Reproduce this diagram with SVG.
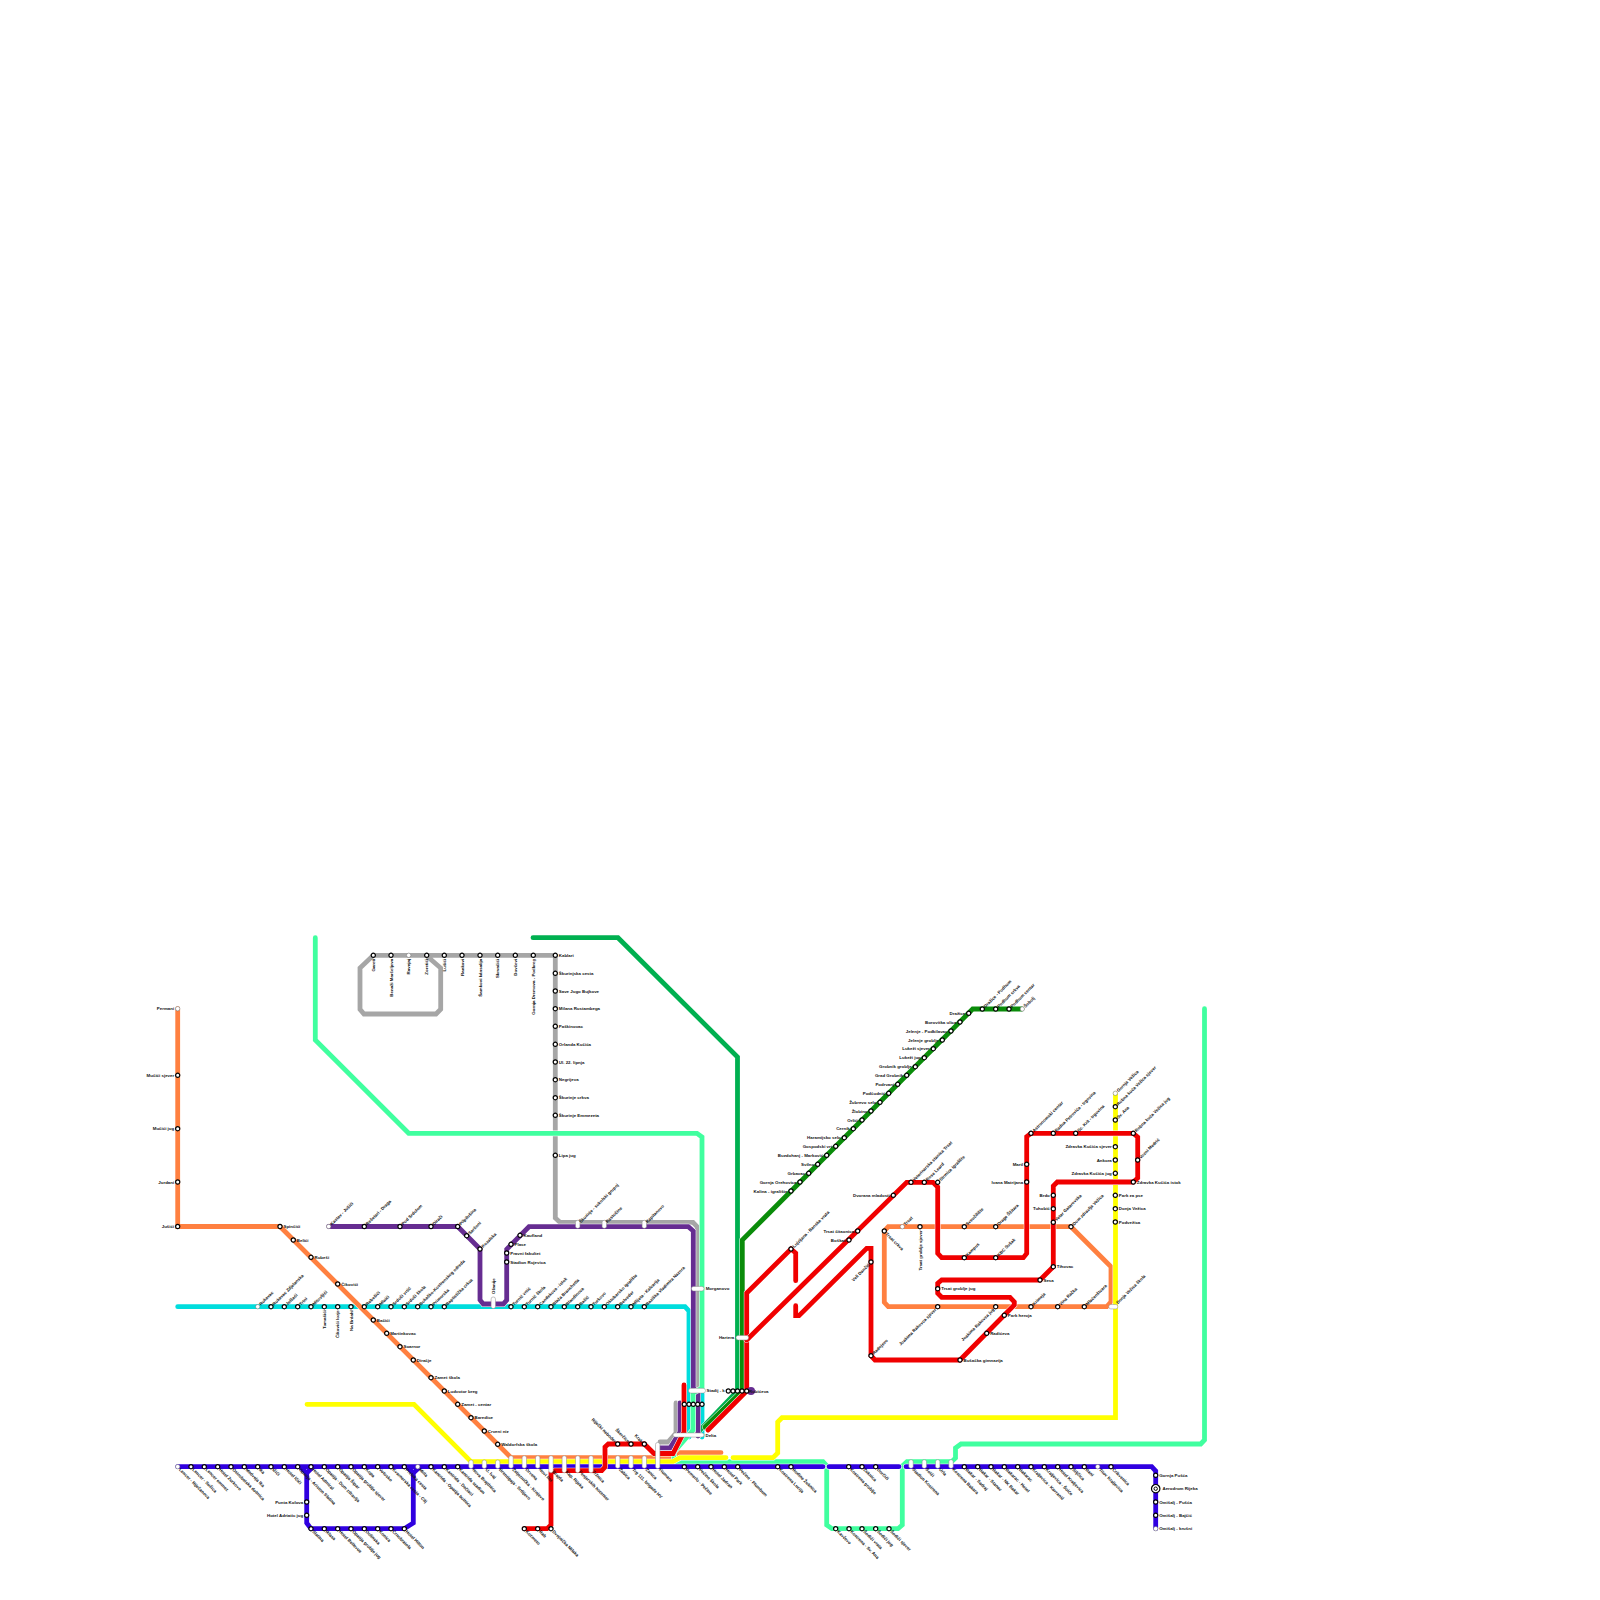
<svg xmlns="http://www.w3.org/2000/svg" width="1600" height="1600" viewBox="0 0 1600 1600">
<style>
text{font:bold 4.4px "Liberation Sans",Arial,sans-serif;fill:#111}
.st{fill:#fff;stroke:#000;stroke-width:1.2}
.tm{fill:#fff;stroke:#666;stroke-width:.5}
.pill{fill:#fff;stroke:#888;stroke-width:.5}
.u{transform:rotate(-45deg) translate(3px,1.6px)}
.d{transform:rotate(45deg) translate(3px,1.6px)}
.r{transform:translate(3.5px,1.6px)}
.l{transform:translate(-3.5px,1.6px);text-anchor:end}
.v{transform:rotate(-90deg) translate(-3.5px,1.6px);text-anchor:end}
.e{transform:rotate(45deg) translate(-3px,1.6px);text-anchor:end}
.s{transform:rotate(-45deg) translate(-3px,1.6px);text-anchor:end}
.k{transform:translate(0,4.7px) rotate(45deg) translate(3px,1.6px)}
.k2{transform:translate(0,2.6px) rotate(45deg) translate(3px,1.6px)}
#lines use{fill:none;stroke-linecap:round;stroke-linejoin:miter}
.h{stroke:#fff;stroke-width:5.8}
.c{stroke-width:4.8}
</style>
<defs>
<path id="pCy" d="M177.7 1306.7H685L689 1311V1437"/>
<path id="pCy2" d="M702 1394V1437"/>
<path id="pOr" d="M177.7 1008.7V1226.5H280L511 1457.7H675L680 1452.7H721"/>
<path id="pOr2" d="M1071 1226.7L1111 1266.7V1301.7L1106.7 1306.7H888.3L884.3 1302.3V1231L888.3 1226.7H1071"/>
<path id="pTe" d="M533 937.7H618L737.5 1057V1391L705 1425L698 1432V1436"/>
<path id="pGr" d="M555.3 955.3H373.3L360 968V1009.3L364 1014H436L440.7 1009.3V968L428 957M555.3 955.3V1218L560 1222.3H693L697.3 1227V1390M676 1403V1433L668 1442H660"/>
<path id="pPu" d="M328.7 1226.5H457.7L480 1249V1300L483.3 1304H503.3L506.7 1300V1249.3L529 1226.7H688.3L693.3 1231V1388L698 1393V1436M680 1403V1432L670 1448H660"/>
<path id="pMi" d="M315.3 937.7V1040L408.7 1133.3H697L702 1137V1388L693 1393V1430L674 1452V1461.7H823L826.7 1465.7V1525L832 1528.7H898L902.3 1525V1466L907 1461.7H951.7L955.5 1458V1448L961 1444H1200.7L1204.5 1440V1008.7"/>
<path id="pYe" d="M307 1404.3H414L471 1461.7H673L680 1457.7H726"/>
<path id="pYe2" d="M733 1457.7H773L777.7 1453V1422L782 1417.7H1115.5V1094"/>
<path id="pDg" d="M1022 1009H972.7L742.3 1240V1391L705 1427"/>
<path id="pBl" d="M177.7 1466.7H823M829 1466.7H899M906 1466.7H1151.7L1155.7 1471V1528.7M300 1466.7L306.7 1473V1523L311 1528.7H404.3L413.3 1523V1473L420 1466.7M313 1466.7L306.7 1473M407 1466.7L413.3 1473"/>
<path id="pRe1" d="M795.7 1280.7V1253L791 1249L746.7 1293V1391L708 1430"/>
<path id="pRe2" d="M746.7 1340L906.7 1182.3H933L937.7 1187V1253.3L941.7 1257.7H1023.3L1026.7 1253.5V1136.7L1031 1133.3H1133.3L1137.7 1137V1178L1133.3 1182H1057.3L1053.3 1186V1266.7L1040 1280H941.7L937.7 1283.3V1293.3L941.7 1297.3H1010L1014.3 1302V1305L960 1360H875L871 1355.7V1248.3H866.7L799 1315.7H795.7V1305.7"/>
<path id="pRe3" d="M524.3 1528.7H547L551 1525V1473L555 1470.7H601.7L605 1467V1447L608.3 1444H644.3L654 1453.5H673L684 1432V1385"/>
</defs>
<g id="lines">
<use href="#pCy" class="h"/><use href="#pCy" class="c" stroke="#00DDDD"/>
<use href="#pCy2" class="c" stroke="#00DDDD"/>
<use href="#pOr" class="h"/><use href="#pOr" class="c" stroke="#FF8040"/>
<use href="#pOr2" class="h"/><use href="#pOr2" class="c" stroke="#FF8040"/>
<use href="#pTe" class="h"/><use href="#pTe" class="c" stroke="#00B050"/>
<use href="#pGr" class="h"/><use href="#pGr" class="c" stroke="#A6A6A6"/>
<use href="#pPu" class="h"/><use href="#pPu" class="c" stroke="#662D91"/>
<use href="#pMi" class="h"/><use href="#pMi" class="c" stroke="#40FF9F"/>
<use href="#pYe" class="h"/><use href="#pYe" class="c" stroke="#FFFF00"/>
<use href="#pYe2" class="h"/><use href="#pYe2" class="c" stroke="#FFFF00"/>
<use href="#pDg" class="h"/><use href="#pDg" class="c" stroke="#0A8C0A"/>
<use href="#pBl" class="h"/><use href="#pBl" class="c" stroke="#3000E0"/>
<use href="#pRe1" class="h"/><use href="#pRe1" class="c" stroke="#F00000"/>
<use href="#pRe2" class="h"/><use href="#pRe2" class="c" stroke="#F00000"/>
<use href="#pRe3" class="h"/><use href="#pRe3" class="c" stroke="#F00000"/>
</g>
<g id="nodes">
<g id="or1" transform="translate(177.7 1008.7)"><circle class="tm" r="2.2"/><text class="l">Permani</text></g>
<g id="or2" transform="translate(177.7 1075.3)"><circle class="st" r="2.1"/><text class="l">Mučići sjever</text></g>
<g id="or3" transform="translate(177.7 1128.7)"><circle class="st" r="2.1"/><text class="l">Mučići jug</text></g>
<g id="or4" transform="translate(177.7 1182)"><circle class="st" r="2.1"/><text class="l">Jurdani</text></g>
<g id="or5" transform="translate(177.7 1226.5)"><circle class="st" r="2.1"/><text class="l">Jušići</text></g>
<g id="or6" transform="translate(280 1226.5)"><circle class="st" r="2.1"/><text class="r">Spinčići</text></g>
<g id="or7" transform="translate(293.3 1240)"><circle class="st" r="2.1"/><text class="r">Belići</text></g>
<g id="or8" transform="translate(311 1257.3)"><circle class="st" r="2.1"/><text class="r">Rubeši</text></g>
<g id="or9" transform="translate(337.7 1284)"><circle class="st" r="2.1"/><text class="r">Čikovići</text></g>
<g id="or10" transform="translate(373.3 1320)"><circle class="st" r="2.1"/><text class="r">Bačići</text></g>
<g id="or11" transform="translate(386.7 1333.3)"><circle class="st" r="2.1"/><text class="r">Martinkovac</text></g>
<g id="or12" transform="translate(400 1346.7)"><circle class="st" r="2.1"/><text class="r">Soarnor</text></g>
<g id="or13" transform="translate(413.3 1360)"><circle class="st" r="2.1"/><text class="r">Diračje</text></g>
<g id="or14" transform="translate(431 1377.7)"><circle class="st" r="2.1"/><text class="r">Zamet škola</text></g>
<g id="or15" transform="translate(444.3 1391)"><circle class="st" r="2.1"/><text class="r">Ludvotor breg</text></g>
<g id="or16" transform="translate(457.7 1404.3)"><circle class="st" r="2.1"/><text class="r">Zamet - centar</text></g>
<g id="or17" transform="translate(471 1417.7)"><circle class="st" r="2.1"/><text class="r">Baredice</text></g>
<g id="or18" transform="translate(484.3 1431)"><circle class="st" r="2.1"/><text class="r">Crveni niz</text></g>
<g id="or19" transform="translate(497.7 1444.3)"><circle class="st" r="2.1"/><text class="r">Waldorfska škola</text></g>

<g id="gr1" transform="translate(373.3 955.3)"><circle class="st" r="2.1"/><text class="v">Gareti</text></g>
<g id="gr2" transform="translate(391 955.3)"><circle class="st" r="2.1"/><text class="v">Benaži Marčeljeva</text></g>
<g id="gr3" transform="translate(408.7 955.3)"><circle class="tm" r="2.2"/><text class="v">Ravnjaj</text></g>
<g id="gr4" transform="translate(426.7 955.3)"><circle class="st" r="2.1"/><text class="v">Zoretići</text></g>
<g id="gr5" transform="translate(444.3 955.3)"><circle class="st" r="2.1"/><text class="v">Lušići</text></g>
<g id="gr6" transform="translate(462 955.3)"><circle class="st" r="2.1"/><text class="v">Rankovi</text></g>
<g id="gr7" transform="translate(480 955.3)"><circle class="st" r="2.1"/><text class="v">Šamkovi kánsalija</text></g>
<g id="gr8" transform="translate(497.7 955.3)"><circle class="st" r="2.1"/><text class="v">Skrvačići</text></g>
<g id="gr9" transform="translate(515.3 955.3)"><circle class="st" r="2.1"/><text class="v">Dovčevi</text></g>
<g id="gr10" transform="translate(533.3 955.3)"><circle class="st" r="2.1"/><text class="v">Gornja Dremova - Podbreg</text></g>
<g id="gr11" transform="translate(555.3 955.3)"><circle class="st" r="2.1"/><text class="r">Kablari</text></g>
<g id="gr12" transform="translate(555.3 973.3)"><circle class="st" r="2.1"/><text class="r">Škurinjska cesta</text></g>
<g id="gr13" transform="translate(555.3 991)"><circle class="st" r="2.1"/><text class="r">Save Jugo Bujkove</text></g>
<g id="gr14" transform="translate(555.3 1008.7)"><circle class="st" r="2.1"/><text class="r">Milana Rustambega</text></g>
<g id="gr15" transform="translate(555.3 1026.3)"><circle class="st" r="2.1"/><text class="r">Paškinovac</text></g>
<g id="gr16" transform="translate(555.3 1044.3)"><circle class="st" r="2.1"/><text class="r">Orlanda Kučića</text></g>
<g id="gr17" transform="translate(555.3 1062)"><circle class="st" r="2.1"/><text class="r">Ul. 22. lipnja</text></g>
<g id="gr18" transform="translate(555.3 1079.7)"><circle class="st" r="2.1"/><text class="r">Negrijeva</text></g>
<g id="gr19" transform="translate(555.3 1097.7)"><circle class="st" r="2.1"/><text class="r">Škurinje crkva</text></g>
<g id="gr20" transform="translate(555.3 1115.3)"><circle class="st" r="2.1"/><text class="r">Škurinje Emmezeta</text></g>
<g id="gr21" transform="translate(555.3 1155.3)"><circle class="st" r="2.1"/><text class="r">Lipa jug</text></g>

<g id="pu1" transform="translate(328.7 1226.5)"><circle class="tm" r="2.2"/><text class="u">Kastav - Jušići</text></g>
<g id="pu2" transform="translate(364.3 1226.5)"><circle class="st" r="2.1"/><text class="u">Rešetari - Draga</text></g>
<g id="pu3" transform="translate(400 1226.5)"><circle class="st" r="2.1"/><text class="u">Pod Srdolom</text></g>
<g id="pu4" transform="translate(431 1226.5)"><circle class="st" r="2.1"/><text class="u">Dirači</text></g>
<g id="pu5" transform="translate(457.7 1226.5)"><circle class="st" r="2.1"/><text class="u">Pilpilušina</text></g>
<g id="pu6" transform="translate(466.7 1235.7)"><circle class="st" r="2.1"/><text class="u">Saršoni</text></g>
<g id="pu7" transform="translate(480 1249)"><circle class="st" r="2.1"/><text class="u">Kozalska</text></g>
<g id="pu8" transform="translate(520 1235.3)"><circle class="st" r="2.1"/><text class="r">Kaufland</text></g>
<g id="pu9" transform="translate(511 1244.3)"><circle class="st" r="2.1"/><text class="r">Plase</text></g>
<g id="pu10" transform="translate(506.7 1253)"><circle class="st" r="2.1"/><text class="r">Pravni fakultet</text></g>
<g id="pu11" transform="translate(506.7 1262)"><circle class="st" r="2.1"/><text class="r">Stadion Rujevica</text></g>
<g id="pu12" transform="translate(493.3 1303)"><rect class="pill" x="-2.2" y="-6" width="4.4" height="11.5" rx="2"/><text style="transform:rotate(-90deg) translate(9px,1.6px)">Ožanije</text></g>
<g id="pu13" transform="translate(577.7 1224.3)"><rect class="pill" x="-2.2" y="-4" width="4.4" height="8" rx="2"/><text class="u">Škurinje - sokolski grupoj</text></g>
<g id="pu14" transform="translate(604.3 1224.3)"><rect class="pill" x="-2.2" y="-4" width="4.4" height="8" rx="2"/><text class="u">Rastočine</text></g>
<g id="pu15" transform="translate(644.3 1224.3)"><rect class="pill" x="-2.2" y="-4" width="4.4" height="8" rx="2"/><text class="u">Kapitanovo</text></g>
<g id="pu16" transform="translate(697.7 1288.7)"><rect class="pill" x="-6.3" y="-2.3" width="12.6" height="4.6" rx="2.2"/><text style="transform:translate(8px,1.6px)">Morganovo</text></g>
<g id="re0" transform="translate(742.3 1337.7)"><rect class="pill" x="-6.3" y="-2.3" width="12.6" height="4.6" rx="2.2"/><text style="transform:translate(-8px,1.6px);text-anchor:end">Hartera</text></g>

<g id="cy1" transform="translate(257.7 1306.7)"><circle class="tm" r="2.2"/><text class="u">Rukavac</text></g>
<g id="cy2" transform="translate(271 1306.7)"><circle class="st" r="2.1"/><text class="u">Rukavac Zdjelanska</text></g>
<g id="cy3" transform="translate(284.3 1306.7)"><circle class="st" r="2.1"/><text class="u">Jelšaći</text></g>
<g id="cy4" transform="translate(297.7 1306.7)"><circle class="st" r="2.1"/><text class="u">Trtni</text></g>
<g id="cy5" transform="translate(311 1306.7)"><circle class="st" r="2.1"/><text class="u">Mitovljići</text></g>
<g id="cy6" transform="translate(324.3 1306.7)"><circle class="st" r="2.1"/><text class="v">Tomašići</text></g>
<g id="cy7" transform="translate(337.7 1306.7)"><circle class="st" r="2.1"/><text class="v">Čikovići lozje</text></g>
<g id="cy8" transform="translate(351 1306.7)"><circle class="st" r="2.1"/><text class="v">Na Brdahl</text></g>
<g id="cy9" transform="translate(364.3 1306.7)"><circle class="st" r="2.1"/><text class="u">Rebešići</text></g>
<g id="cy10" transform="translate(377.7 1306.7)"><circle class="st" r="2.1"/><text class="u">Mlaići</text></g>
<g id="cy11" transform="translate(391 1306.7)"><circle class="st" r="2.1"/><text class="u">Srdoči vrtić</text></g>
<g id="cy12" transform="translate(404.3 1306.7)"><circle class="st" r="2.1"/><text class="u">Srdoči škola</text></g>
<g id="cy13" transform="translate(417.7 1306.7)"><circle class="st" r="2.1"/><text class="u">Bokačko-Kostrenskog odreda</text></g>
<g id="cy14" transform="translate(431 1306.7)"><circle class="st" r="2.1"/><text class="u">Primorska</text></g>
<g id="cy15" transform="translate(444.3 1306.7)"><circle class="st" r="2.1"/><text class="u">Baptistička crkva</text></g>
<g id="cy16" transform="translate(511 1306.7)"><circle class="st" r="2.1"/><text class="u">Turnić vrtić</text></g>
<g id="cy17" transform="translate(524.3 1306.7)"><circle class="st" r="2.1"/><text class="u">Turnić škola</text></g>
<g id="cy18" transform="translate(537.7 1306.7)"><circle class="st" r="2.1"/><text class="u">Candekova - istok</text></g>
<g id="cy19" transform="translate(551 1306.7)"><circle class="st" r="2.1"/><text class="u">Blaža Branchetta</text></g>
<g id="cy20" transform="translate(564.3 1306.7)"><circle class="st" r="2.1"/><text class="u">Blandinova</text></g>
<g id="cy21" transform="translate(577.7 1306.7)"><circle class="st" r="2.1"/><text class="u">Bašić</text></g>
<g id="cy22" transform="translate(591 1306.7)"><circle class="st" r="2.1"/><text class="u">Turkovo</text></g>
<g id="cy23" transform="translate(604.3 1306.7)"><circle class="st" r="2.1"/><text class="u">Oktobarsko igralište</text></g>
<g id="cy24" transform="translate(617.7 1306.7)"><circle class="st" r="2.1"/><text class="u">Belveder</text></g>
<g id="cy25" transform="translate(631 1306.7)"><circle class="st" r="2.1"/><text class="u">Mlijeta - Kalvarija</text></g>
<g id="cy26" transform="translate(644.3 1306.7)"><circle class="st" r="2.1"/><text class="u">Bazilika Vladimira Nazora</text></g>

<g id="bl1" transform="translate(177.7 1466.7)"><circle class="tm" r="2.2"/><text class="d">Lencer - Riječanova</text></g>
<g id="bl2" transform="translate(191 1466.7)"><circle class="st" r="2.1"/><text class="d">Lencer - Sučica</text></g>
<g id="bl3" transform="translate(204.3 1466.7)"><circle class="st" r="2.1"/><text class="d">Lencer emmez</text></g>
<g id="bl4" transform="translate(217.7 1466.7)"><circle class="st" r="2.1"/><text class="d">Hotel Zurkovo</text></g>
<g id="bl5" transform="translate(231 1466.7)"><circle class="st" r="2.1"/><text class="d">Ostrobetska dolmica</text></g>
<g id="bl6" transform="translate(244.3 1466.7)"><circle class="st" r="2.1"/><text class="d">Medveja Ika</text></g>
<g id="bl7" transform="translate(257.7 1466.7)"><circle class="st" r="2.1"/><text class="d">Ika</text></g>
<g id="bl8" transform="translate(271 1466.7)"><circle class="st" r="2.1"/><text class="d">Ičići</text></g>
<g id="bl9" transform="translate(284.3 1466.7)"><circle class="st" r="2.1"/><text class="d">Hotel Ičići</text></g>
<g id="bl10" transform="translate(297.7 1466.7)"><circle class="st" r="2.1"/><text class="d">Opatija - Ariston Slatina</text></g>
<g id="bl11" transform="translate(311 1466.7)"><circle class="st" r="2.1"/><text class="d">Hotel Admiral</text></g>
<g id="bl12" transform="translate(324.3 1466.7)"><circle class="st" r="2.1"/><text class="d">Opatija - Dom zdravlja</text></g>
<g id="bl13" transform="translate(337.7 1466.7)"><circle class="st" r="2.1"/><text class="d">Opatija Šipar</text></g>
<g id="bl14" transform="translate(351 1466.7)"><circle class="st" r="2.1"/><text class="d">Opatija groblje sjever</text></g>
<g id="bl15" transform="translate(364.3 1466.7)"><circle class="st" r="2.1"/><text class="d">Kopa</text></g>
<g id="bl16" transform="translate(377.7 1466.7)"><circle class="st" r="2.1"/><text class="d">Volosko</text></g>
<g id="bl17" transform="translate(391 1466.7)"><circle class="st" r="2.1"/><text class="d">Kvarnerska cesta - Cilj</text></g>
<g id="bl18" transform="translate(404.3 1466.7)"><circle class="st" r="2.1"/><text class="d">Preluka cesta</text></g>
<g id="bl19" transform="translate(417.7 1466.7)"><circle class="tm" r="2.2"/><text class="d">Mirla</text></g>
<g id="bl20" transform="translate(431 1466.7)"><circle class="st" r="2.1"/><text class="d">Kantrida - Opatija bolnica</text></g>
<g id="bl21" transform="translate(444.3 1466.7)"><circle class="st" r="2.1"/><text class="d">Kantrida - Dečiaci</text></g>
<g id="bl22" transform="translate(457.7 1466.7)"><circle class="st" r="2.1"/><text class="d">Kantrida stadion</text></g>
<g id="bl23" transform="translate(311 1528.7)"><circle class="st" r="2.1"/><text class="d">Slatina</text></g>
<g id="bl24" transform="translate(324.3 1528.7)"><circle class="st" r="2.1"/><text class="d">Iklasa</text></g>
<g id="bl25" transform="translate(337.7 1528.7)"><circle class="st" r="2.1"/><text class="d">Hotel Bellevue</text></g>
<g id="bl26" transform="translate(351 1528.7)"><circle class="st" r="2.1"/><text class="d">Opatija groblje jug</text></g>
<g id="bl27" transform="translate(364.3 1528.7)"><circle class="st" r="2.1"/><text class="d">Dolinska</text></g>
<g id="bl28" transform="translate(377.7 1528.7)"><circle class="st" r="2.1"/><text class="d">Konica</text></g>
<g id="bl29" transform="translate(391 1528.7)"><circle class="st" r="2.1"/><text class="d">Črnobratola</text></g>
<g id="bl30" transform="translate(404.3 1528.7)"><circle class="st" r="2.1"/><text class="d">Hotel Hilton</text></g>
<g id="bl31" transform="translate(306.7 1502)"><circle class="st" r="2.1"/><text class="l">Punta Kolova</text></g>
<g id="bl32" transform="translate(306.7 1515.3)"><circle class="st" r="2.1"/><text class="l">Hotel Adriatic jug</text></g>

<g id="ic1" transform="translate(471 1464.2)"><rect class="pill" x="-2.2" y="-4.2" width="4.4" height="8.4" rx="2"/><text class="k2">Nova Brajdnica</text></g>
<g id="ic2" transform="translate(484.3 1464.2)"><rect class="pill" x="-2.2" y="-4.2" width="4.4" height="8.4" rx="2"/><text class="k2">U. Ivaj</text></g>
<g id="ic3" transform="translate(497.7 1464.2)"><rect class="pill" x="-2.2" y="-4.2" width="4.4" height="8.4" rx="2"/><text class="k2">Brentigaja - Srdijevo</text></g>
<g id="ic4" transform="translate(511 1462)"><rect class="pill" x="-2.2" y="-6.2" width="4.4" height="12.4" rx="2"/><text class="k">Željeznička - Krnjevo</text></g>
<g id="ic5" transform="translate(524.3 1462)"><rect class="pill" x="-2.2" y="-6.2" width="4.4" height="12.4" rx="2"/><text class="k">Drvena</text></g>
<g id="ic6" transform="translate(537.7 1462)"><rect class="pill" x="-2.2" y="-6.2" width="4.4" height="12.4" rx="2"/><text class="k">Novi list</text></g>
<g id="ic7" transform="translate(551 1464.3)"><rect class="pill" x="-2.2" y="-8.5" width="4.4" height="17" rx="2"/><text class="k">Brajda</text></g>
<g id="ic8" transform="translate(564.3 1464.3)"><rect class="pill" x="-2.2" y="-8.5" width="4.4" height="17" rx="2"/><text class="k">Kap. Rijeka</text></g>
<g id="ic9" transform="translate(577.7 1464.3)"><rect class="pill" x="-2.2" y="-8.5" width="4.4" height="17" rx="2"/><text class="k">Fenjerskih hotenter</text></g>
<g id="ic10" transform="translate(591 1464.3)"><rect class="pill" x="-2.2" y="-8.5" width="4.4" height="17" rx="2"/><text class="k">Tržnica</text></g>
<g id="ic11" transform="translate(617.7 1462)"><rect class="pill" x="-2.2" y="-6.2" width="4.4" height="12.4" rx="2"/><text class="k">Žabica</text></g>
<g id="ic12" transform="translate(631 1462)"><rect class="pill" x="-2.2" y="-6.2" width="4.4" height="12.4" rx="2"/><text class="k">Trg 111. brigade HV</text></g>
<g id="ic13" transform="translate(644.3 1462)"><rect class="pill" x="-2.2" y="-6.2" width="4.4" height="12.4" rx="2"/><text class="k">Zanica</text></g>
<g id="ic14" transform="translate(657.7 1455.5)"><rect class="pill" x="-2.2" y="-13" width="4.4" height="26" rx="2"/><text style="transform:translate(0,11.2px) rotate(45deg) translate(3px,1.6px)">Fiumara</text></g>

<g id="re1" transform="translate(524.3 1528.7)"><circle class="st" r="2.1"/><text class="d">Kozmeto</text></g>
<g id="re2" transform="translate(537.7 1528.7)"><circle class="st" r="2.1"/><text class="d">Rab</text></g>
<g id="re3" transform="translate(551 1528.7)"><circle class="st" r="2.1"/><text class="d">Dvojnička Milaka</text></g>
<g id="re4" transform="translate(617.7 1444)"><circle class="st" r="2.1"/><text class="e">Riječki nebođer</text></g>
<g id="re5" transform="translate(631 1444)"><circle class="st" r="2.1"/><text class="e">Škerčice</text></g>
<g id="re6" transform="translate(644.3 1444)"><circle class="st" r="2.1"/><text class="e">Krak</text></g>

<g id="de1" transform="translate(697 1390.7)"><rect class="pill" x="-8.5" y="-2.4" width="17" height="4.8" rx="2.3"/><text style="transform:translate(9.5px,1.6px)">Stadij - k</text></g>
<g id="de2" transform="translate(688.5 1435)"><rect class="pill" x="-15.5" y="-2.1" width="31" height="4.2" rx="2"/><text style="transform:translate(17px,1.6px)">Delta</text></g>
<g id="de3" transform="translate(684.3 1404.3)"><circle class="st" r="2.1"/></g>
<g id="de4" transform="translate(689 1404.3)"><circle class="st" r="2.1"/></g>
<g id="de5" transform="translate(693.3 1404.3)"><circle class="st" r="2.1"/></g>
<g id="de6" transform="translate(697.7 1404.3)"><circle class="st" r="2.1"/></g>
<g id="de7" transform="translate(702 1404.3)"><circle class="st" r="2.1"/></g>
<g id="rb0" transform="translate(751 1391)"><circle r="4" fill="#662D91"/><text style="transform:translate(-2px,1.6px)">Rubićeva</text></g>
<g id="rb1" transform="translate(728.3 1391)"><circle class="st" r="2.1"/></g>
<g id="rb2" transform="translate(733 1391)"><circle class="st" r="2.1"/></g>
<g id="rb3" transform="translate(737.5 1391)"><circle class="st" r="2.1"/></g>
<g id="rb4" transform="translate(742 1391)"><circle class="st" r="2.1"/></g>
<g id="rb5" transform="translate(746.7 1391)"><circle class="st" r="2.1"/></g>

<g id="bc1" transform="translate(684.3 1466.7)"><circle class="st" r="2.1"/><text class="d">Pomerlo - Pečine</text></g>
<g id="bc2" transform="translate(697.7 1466.7)"><circle class="st" r="2.1"/><text class="d">Pećine škola</text></g>
<g id="bc3" transform="translate(711 1466.7)"><circle class="st" r="2.1"/><text class="d">Hotel Jadran</text></g>
<g id="bc4" transform="translate(724.3 1466.7)"><circle class="st" r="2.1"/><text class="d">Hotel Park</text></g>
<g id="bc5" transform="translate(737.7 1466.7)"><circle class="st" r="2.1"/><text class="d">Pećine - Plumbum</text></g>
<g id="bc6" transform="translate(777.7 1466.7)"><circle class="st" r="2.1"/><text class="d">Kostrena Lucija</text></g>
<g id="bc7" transform="translate(791 1466.7)"><circle class="st" r="2.1"/><text class="d">Rodine Žuknica</text></g>
<g id="bc8" transform="translate(848.7 1466.7)"><circle class="st" r="2.1"/><text class="d">Kostrena groblje</text></g>
<g id="bc9" transform="translate(862 1466.7)"><circle class="st" r="2.1"/><text class="d">Žuknica</text></g>
<g id="bc10" transform="translate(875.7 1466.7)"><circle class="st" r="2.1"/><text class="d">Dorčići</text></g>
<g id="mi1" transform="translate(835.7 1528.7)"><circle class="st" r="2.1"/><text class="d">Kavčevo</text></g>
<g id="mi2" transform="translate(849 1528.7)"><circle class="st" r="2.1"/><text class="d">Kostrena - Sv. Ana</text></g>
<g id="mi3" transform="translate(862 1528.7)"><circle class="st" r="2.1"/><text class="d">Šodići vrata</text></g>
<g id="mi4" transform="translate(875.7 1528.7)"><circle class="st" r="2.1"/><text class="d">Šodići jug</text></g>
<g id="mi5" transform="translate(889 1528.7)"><circle class="st" r="2.1"/><text class="d">Šodići sjever</text></g>
<g id="mi6" transform="translate(911 1464)"><rect class="pill" x="-2.2" y="-4.3" width="4.4" height="8.6" rx="2"/><text class="k2">Stadion Kostrena</text></g>
<g id="mi7" transform="translate(924.3 1464)"><rect class="pill" x="-2.2" y="-4.3" width="4.4" height="8.6" rx="2"/><text class="k2">Šoići</text></g>
<g id="mi8" transform="translate(937.7 1464)"><rect class="pill" x="-2.2" y="-4.3" width="4.4" height="8.6" rx="2"/><text class="k2">Urla</text></g>
<g id="mi9" transform="translate(951 1464)"><rect class="pill" x="-2.2" y="-4.3" width="4.4" height="8.6" rx="2"/><text class="k2">Kostrena Bakara</text></g>
<g id="be1" transform="translate(964.3 1466.7)"><circle class="st" r="2.1"/><text class="d">Bakar - Sadraj</text></g>
<g id="be2" transform="translate(977.7 1466.7)"><circle class="st" r="2.1"/><text class="d">Bakar - Stanac</text></g>
<g id="be3" transform="translate(991 1466.7)"><circle class="st" r="2.1"/><text class="d">Bakar - NK Bakar</text></g>
<g id="be4" transform="translate(1004.3 1466.7)"><circle class="st" r="2.1"/><text class="d">Bakarac - Hotel</text></g>
<g id="be5" transform="translate(1017.7 1466.7)"><circle class="st" r="2.1"/><text class="d">Bakarac</text></g>
<g id="be6" transform="translate(1031 1466.7)"><circle class="st" r="2.1"/><text class="d">Kraljevica - Kavranić</text></g>
<g id="be7" transform="translate(1044.3 1466.7)"><circle class="st" r="2.1"/><text class="d">Kraljevica - Šoiće</text></g>
<g id="be8" transform="translate(1057.7 1466.7)"><circle class="st" r="2.1"/><text class="d">Hotel Kraljevica</text></g>
<g id="be9" transform="translate(1071 1466.7)"><circle class="st" r="2.1"/><text class="d">Šiljčica</text></g>
<g id="be10" transform="translate(1084.3 1466.7)"><circle class="st" r="2.1"/><text class="d">Bani</text></g>
<g id="be11" transform="translate(1097.7 1466.7)"><circle class="tm" r="2.2"/><text class="d">Titov Kraljevica</text></g>
<g id="be13" transform="translate(1111 1466.7)"><circle class="st" r="2.1"/><text class="d">Crikvenica</text></g>
<g id="be14" transform="translate(1155.7 1475.3)"><circle class="st" r="2.1"/><text class="r">Gornja Pušća</text></g>
<g id="be15" transform="translate(1155.7 1488.7)"><circle class="st" r="4.2"/><circle r="1.7" fill="#fff" stroke="#000" stroke-width="1"/><text style="transform:translate(6.8px,1.6px)">Aerodrom Rijeka</text></g>
<g id="be16" transform="translate(1155.7 1502)"><circle class="st" r="2.1"/><text class="r">Omišalj - Pušća</text></g>
<g id="be17" transform="translate(1155.7 1515.3)"><circle class="st" r="2.1"/><text class="r">Omišalj - Bajčić</text></g>
<g id="be18" transform="translate(1155.7 1528.7)"><circle class="tm" r="2.2"/><text class="r">Omišalj - krušni</text></g>

<g id="dg1" transform="translate(968.7 1013.3)"><circle class="st" r="2.1"/><text class="l">Dražice</text></g>
<g id="dg2" transform="translate(982.3 1009)"><circle class="st" r="2.1"/><text class="u">Dražice - Podhum</text></g>
<g id="dg3" transform="translate(995.7 1009)"><circle class="st" r="2.1"/><text class="u">Podhum crkva</text></g>
<g id="dg4" transform="translate(1009 1009)"><circle class="st" r="2.1"/><text class="u">Podhum centar</text></g>
<g id="dg5" transform="translate(1022.3 1009)"><circle class="tm" r="2.2"/><text class="u">Šobolj</text></g>
<g id="dg6" transform="translate(960 1022)"><circle class="st" r="2.1"/><text class="l">Borovitka ulica</text></g>
<g id="dg7" transform="translate(951 1031)"><circle class="st" r="2.1"/><text class="l">Jelenje - Podkilavac</text></g>
<g id="dg8" transform="translate(942.3 1040)"><circle class="st" r="2.1"/><text class="l">Jelenje groblje</text></g>
<g id="dg9" transform="translate(933.3 1048.7)"><circle class="st" r="2.1"/><text class="l">Lukeži sjever</text></g>
<g id="dg10" transform="translate(924.3 1057.7)"><circle class="st" r="2.1"/><text class="l">Lukeži jug</text></g>
<g id="dg11" transform="translate(915.3 1066.7)"><circle class="st" r="2.1"/><text class="l">Grobnik groblje</text></g>
<g id="dg12" transform="translate(906.7 1075.3)"><circle class="st" r="2.1"/><text class="l">Grad Grobnik</text></g>
<g id="dg13" transform="translate(897.7 1084.3)"><circle class="st" r="2.1"/><text class="l">Podrvanj</text></g>
<g id="dg14" transform="translate(888.7 1093.3)"><circle class="st" r="2.1"/><text class="l">Podčudnić</text></g>
<g id="dg15" transform="translate(880 1102.3)"><circle class="st" r="2.1"/><text class="l">Žubrevo selo</text></g>
<g id="dg16" transform="translate(871 1111)"><circle class="st" r="2.1"/><text class="l">Žlobino</text></g>
<g id="dg17" transform="translate(862 1120)"><circle class="st" r="2.1"/><text class="l">Orlići</text></g>
<g id="dg18" transform="translate(853.3 1128.7)"><circle class="st" r="2.1"/><text class="l">Cernik</text></g>
<g id="dg19" transform="translate(844.3 1137.7)"><circle class="st" r="2.1"/><text class="l">Haramijsko selo</text></g>
<g id="dg20" transform="translate(835.7 1146.3)"><circle class="st" r="2.1"/><text class="l">Gospodski vrt</text></g>
<g id="dg21" transform="translate(826.7 1155.3)"><circle class="st" r="2.1"/><text class="l">Buzdohanj - Marković</text></g>
<g id="dg22" transform="translate(817.7 1164.3)"><circle class="st" r="2.1"/><text class="l">Svilno</text></g>
<g id="dg23" transform="translate(808.7 1173.3)"><circle class="st" r="2.1"/><text class="l">Grbavac</text></g>
<g id="dg24" transform="translate(800 1182)"><circle class="st" r="2.1"/><text class="l">Gornja Orehovica</text></g>
<g id="dg25" transform="translate(791 1191)"><circle class="st" r="2.1"/><text class="l">Kalina - igralište</text></g>

<g id="r1" transform="translate(791 1249)"><circle class="st" r="2.1"/><text class="u">Lujzijana - Banska vrata</text></g>
<g id="r2" transform="translate(857.7 1231)"><circle class="st" r="2.1"/><text class="l">Trsat čitaonica</text></g>
<g id="r3" transform="translate(849 1240)"><circle class="st" r="2.1"/><text class="l">Boškat</text></g>
<g id="r4" transform="translate(893.3 1195.3)"><circle class="st" r="2.1"/><text class="l">Dvorana mladosti</text></g>
<g id="r5" transform="translate(911 1182.3)"><circle class="st" r="2.1"/><text class="u">Veterinarska stanica Trsat</text></g>
<g id="r6" transform="translate(924.3 1182.3)"><circle class="st" r="2.1"/><text class="u">Rose Leard</text></g>
<g id="r7" transform="translate(937.7 1182.3)"><circle class="st" r="2.1"/><text class="u">Strmica igralište</text></g>
<g id="r8" transform="translate(964.3 1257.7)"><circle class="st" r="2.1"/><text class="u">Kampus</text></g>
<g id="r9" transform="translate(995.7 1257.7)"><circle class="st" r="2.1"/><text class="u">KBC Sušak</text></g>
<g id="r10" transform="translate(871 1262)"><circle class="st" r="2.1"/><text class="s">Veli Dančić</text></g>
<g id="r11" transform="translate(871 1355.7)"><circle class="st" r="2.1"/><text class="u">Radojevo</text></g>
<g id="r12" transform="translate(960 1360)"><circle class="st" r="2.1"/><text class="r">Bušačka gimnazija</text></g>
<g id="r13" transform="translate(986.7 1333.3)"><circle class="st" r="2.1"/><text class="r">Radićeva</text></g>
<g id="r14" transform="translate(1004.3 1315.3)"><circle class="st" r="2.1"/><text class="r">Park heroja</text></g>
<g id="r15" transform="translate(937.7 1288.7)"><circle class="st" r="2.1"/><text class="r">Trsat groblje jug</text></g>
<g id="r16" transform="translate(1031 1133.3)"><circle class="st" r="2.1"/><text class="u">Astronomski centar</text></g>
<g id="r17" transform="translate(1053.3 1133.3)"><circle class="st" r="2.1"/><text class="u">Radna Petrovića - trgovina</text></g>
<g id="r18" transform="translate(1075.7 1133.3)"><circle class="st" r="2.1"/><text class="u">Sc. Krit - trgovina</text></g>
<g id="r19" transform="translate(1133.3 1133.3)"><circle class="st" r="2.1"/><text class="u">Robna kuća Vežica jug</text></g>
<g id="r20" transform="translate(1137.7 1160)"><circle class="st" r="2.1"/><text class="u">Vozni Medrić</text></g>
<g id="r21" transform="translate(1133.3 1182)"><circle class="st" r="2.1"/><text class="r">Zdravka Kučića istok</text></g>
<g id="r22" transform="translate(1026.7 1164.3)"><circle class="st" r="2.1"/><text class="l">Martl</text></g>
<g id="r23" transform="translate(1026.7 1182)"><circle class="st" r="2.1"/><text class="l">Ivana Matrijana</text></g>
<g id="r24" transform="translate(1053.3 1195.3)"><circle class="st" r="2.1"/><text class="l">Brdo</text></g>
<g id="r25" transform="translate(1053.3 1208.7)"><circle class="st" r="2.1"/><text class="l">Tuhobić</text></g>
<g id="r26" transform="translate(1053.3 1222.3)"><circle class="st" r="2.1"/><text class="u">Vetar Gatarovska</text></g>
<g id="r27" transform="translate(1053.3 1266.7)"><circle class="st" r="2.1"/><text class="r">Tihovac</text></g>
<g id="r28" transform="translate(1040 1280)"><circle class="st" r="2.1"/><text class="r">Sesa</text></g>

<g id="o1" transform="translate(884.3 1231)"><circle class="st" r="2.1"/><text class="d">Trsat crkva</text></g>
<g id="o2" transform="translate(902.3 1226.7)"><circle class="tm" r="2.2"/><text class="u">Trsat</text></g>
<g id="o3" transform="translate(920 1226.7)"><circle class="st" r="2.1"/><text class="v">Trsat groblje sjever</text></g>
<g id="o4" transform="translate(964.3 1226.7)"><circle class="st" r="2.1"/><text class="u">Sveučilište</text></g>
<g id="o5" transform="translate(995.7 1226.7)"><circle class="st" r="2.1"/><text class="u">Drage Ščitara</text></g>
<g id="o6" transform="translate(1071 1226.7)"><circle class="st" r="2.1"/><text class="u">Dom zdravlja Vežica</text></g>
<g id="o7" transform="translate(937.7 1306.7)"><circle class="st" r="2.1"/><text class="s">Joakima Rakovca sjever</text></g>
<g id="o8" transform="translate(995.7 1306.7)"><circle class="st" r="2.1"/><text class="s">Joakima Rakovca jug</text></g>
<g id="o9" transform="translate(1031 1306.7)"><circle class="st" r="2.1"/><text class="u">Krimeja</text></g>
<g id="o10" transform="translate(1057.7 1306.7)"><circle class="st" r="2.1"/><text class="u">Vina Račka</text></g>
<g id="o11" transform="translate(1084.3 1306.7)"><circle class="st" r="2.1"/><text class="u">Mlaćenštvara</text></g>
<g id="o12" transform="translate(1113.3 1306.7)"><rect class="pill" x="-4.5" y="-2.2" width="9" height="4.4" rx="2"/><text style="transform:rotate(-45deg) translate(5px,1.6px)">Donja Vežica škola</text></g>
<g id="y1" transform="translate(1115.3 1093.3)"><circle class="tm" r="2.2"/><text class="u">Gornja Vežica</text></g>
<g id="y2" transform="translate(1115.3 1106.7)"><circle class="st" r="2.1"/><text class="u">Robna kuća Vežica sjever</text></g>
<g id="y3" transform="translate(1115.3 1120)"><circle class="st" r="2.1"/><text class="u">Sv. Ana</text></g>
<g id="y4" transform="translate(1115.3 1146.7)"><circle class="st" r="2.1"/><text class="l">Zdravka Kučića sjever</text></g>
<g id="y5" transform="translate(1115.3 1160)"><circle class="st" r="2.1"/><text class="l">Ankora</text></g>
<g id="y6" transform="translate(1115.3 1173.3)"><circle class="st" r="2.1"/><text class="l">Zdravka Kučića jug</text></g>
<g id="y7" transform="translate(1115.3 1195.3)"><circle class="st" r="2.1"/><text class="r">Park za pse</text></g>
<g id="y8" transform="translate(1115.3 1208.7)"><circle class="st" r="2.1"/><text class="r">Donja Vežica</text></g>
<g id="y9" transform="translate(1115.3 1222)"><circle class="st" r="2.1"/><text class="r">Podvežica</text></g>
</g>
</svg>
